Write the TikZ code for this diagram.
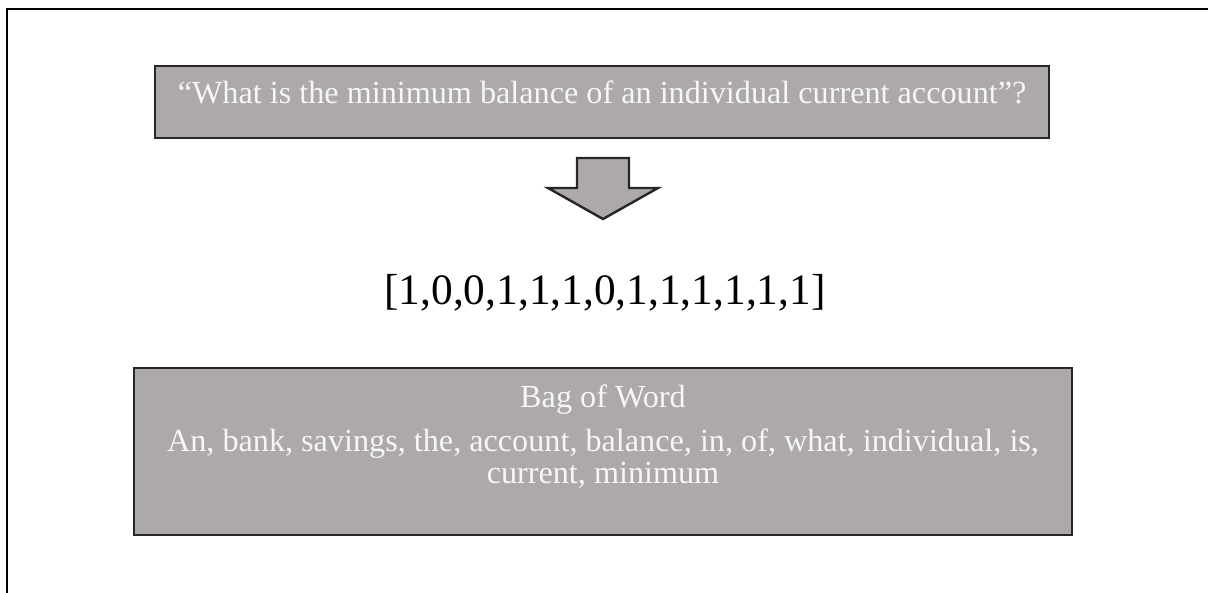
\documentclass[tikz,border=0pt]{standalone}
\usepackage{fontspec}
\setmainfont{Liberation Serif}
\usetikzlibrary{positioning}
\definecolor{boxgray}{HTML}{ACA9A8}
\definecolor{boxtextcol}{HTML}{F6F6F6}

\tikzset{
  graybox/.style={draw=black!85, line width=1.3pt, fill=boxgray, inner sep=0pt},
  boxtext/.style={text=boxtextcol, font=\fontsize{16.1}{16}\selectfont, align=center, inner sep=2pt},
  arrowfill/.style={draw=black!85, line width=1.2pt, fill=boxgray, line join=miter},
}

\begin{document}
\begin{tikzpicture}[x=0.5pt,y=-0.5pt]
    \useasboundingbox (0,0) rectangle (1208,593);
    % frame (left and top edge only)
    \coordinate (FL) at (7,593) ;
    \coordinate (FC) at (7,9) ;
    \coordinate (FR) at (1208,9) ;
    \draw[line width=1.4pt] (FL) -- (FC) -- (FR);

    % question box
    \node [graybox, minimum width=447pt, minimum height=36pt] (Q) at (602,102) {} ;
    \node [boxtext, below=6pt of Q.north] (Qtext) {“What is the minimum balance of an individual current account”?} ;

    % block arrow
    \draw[arrowfill] (577,158) -- (629,158) -- (629,188) -- (658,188) -- (603,219)
        -- (548,188) -- (577,188) -- cycle;

    % vector
    \node [font=\fontsize{21.7}{24}\selectfont, inner sep=0pt] (V) at (605,293) {[1,0,0,1,1,1,0,1,1,1,1,1,1]} ;

    % bag of words box
    \node [graybox, minimum width=469pt, minimum height=83.5pt] (B) at (603,451.5) {} ;
    \node [boxtext, below=7pt of B.north] (Btitle) {Bag of Word} ;
    \node [boxtext, below=2.5pt of Btitle] (Bwords) {An, bank, savings, the, account, balance, in, of, what, individual, is,\\ current, minimum} ;
\end{tikzpicture}
\end{document}
